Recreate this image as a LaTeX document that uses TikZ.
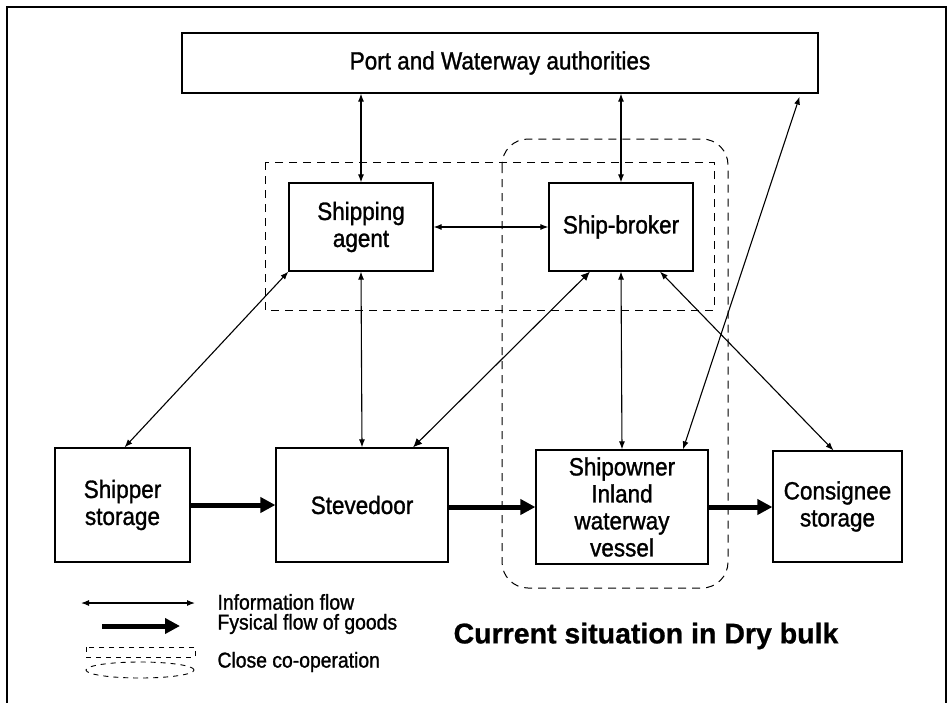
\documentclass[tikz,border=0pt]{standalone}
\usepackage{fontspec}
\setmainfont{Liberation Sans}[FakeStretch=0.9,FakeBold=1.2]
\newfontfamily\headfont{Liberation Sans}[FakeBold=0.8]
\usetikzlibrary{arrows.meta,calc}
\begin{document}
\begin{tikzpicture}[x=1pt,y=-1pt,
  box/.style={draw,line width=1.2pt,inner sep=0pt,align=center,
    font=\fontsize{25}{27}\selectfont},
  info/.style={line width=1.1pt,{Latex[length=8pt,width=6pt]}-{Latex[length=8pt,width=6pt]}},
  infoheavy/.style={line width=1.1pt,{Latex[length=9pt,width=8pt]}-{Latex[length=9pt,width=8pt]}},
  goods/.style={line width=5pt,-{Triangle[length=15pt,width=15pt]}},
  coop/.style={line width=1pt,dash pattern=on 8pt off 6pt},
  legendtext/.style={anchor=west,font=\fontsize{21.5}{24}\selectfont}]
\useasboundingbox (0,0) rectangle (948,702);
\clip (0,0) rectangle (948,702);

% outer frame, open at the bottom
\draw[line width=1.3pt] (7,720) -- (7,7) -- (946,7) -- (946,720);

% actors
\node[box,minimum width=636pt,minimum height=60pt] (port) at (500,63) {Port and Waterway authorities};
\node[box,minimum width=144pt,minimum height=88pt] (agent) at (361,227) {Shipping\\agent};
\node[box,minimum width=144pt,minimum height=88pt] (broker) at (621,227) {Ship-broker};
\node[box,minimum width=135pt,minimum height=114pt] (shipper) at (122.5,505) {Shipper\\storage};
\node[box,minimum width=172pt,minimum height=114pt] (steve) at (362,505) {Stevedoor};
\node[box,minimum width=172pt,minimum height=114pt] (owner) at (622,507) {Shipowner\\Inland\\waterway\\vessel};
\node[box,minimum width=129pt,minimum height=111pt] (consignee) at (837.5,506.5) {Consignee\\storage};

% close co-operation groupings
\draw[coop] (265,162) rectangle (714,310);
\draw[coop,rounded corners=26pt] (502,139) rectangle (728,588);

% information flows
\draw[info] (agent.north |- port.south) -- (agent.north);
\draw[info] (broker.north |- port.south) -- (broker.north);
\draw[info] ([xshift=-19pt,yshift=-3pt]port.south east) -- ([xshift=61pt]owner.north);
\draw[info] (agent.east) -- (broker.west);
\draw[info] (agent.south west) -- ([xshift=2pt]shipper.north);
\draw[info] (agent.south) -- (steve.north);
\draw[infoheavy] ([xshift=-31pt]broker.south) -- ([xshift=51pt]steve.north);
\draw[info] (broker.south) -- (owner.north);
\draw[info] ([xshift=39pt]broker.south) -- ([xshift=-4pt]consignee.north);

% physical flow of goods
\draw[goods] (shipper.east) -- (steve.west);
\draw[goods] (steve.east |- owner.west) -- (owner.west);
\draw[goods] (owner.east) -- (owner.east -| consignee.west);

% legend
\coordinate (li1) at (81,603);
\coordinate (li2) at (195,603);
\coordinate (lg1) at (102,626);
\coordinate (lg2) at (180,626);
\draw[info] (li1) -- (li2);
\draw[goods] (lg1) -- (lg2);
\draw[coop,line width=0.9pt,dash pattern=on 5pt off 5pt] (86,647) rectangle (195,657);
\draw[coop,line width=0.9pt,dash pattern=on 5pt off 5pt] (140,670) ellipse [x radius=54pt,y radius=8pt];
\node[legendtext] (lt1) at (214,602) {Information flow};
\node[legendtext] (lt2) at (214,624) {Fysical flow of goods};
\node[legendtext] (lt3) at (214,662) {Close co-operation};

\node[font=\headfont\bfseries\fontsize{28.5}{32}\selectfont] (title) at (646,636) {Current situation in Dry bulk};
\end{tikzpicture}
\end{document}
